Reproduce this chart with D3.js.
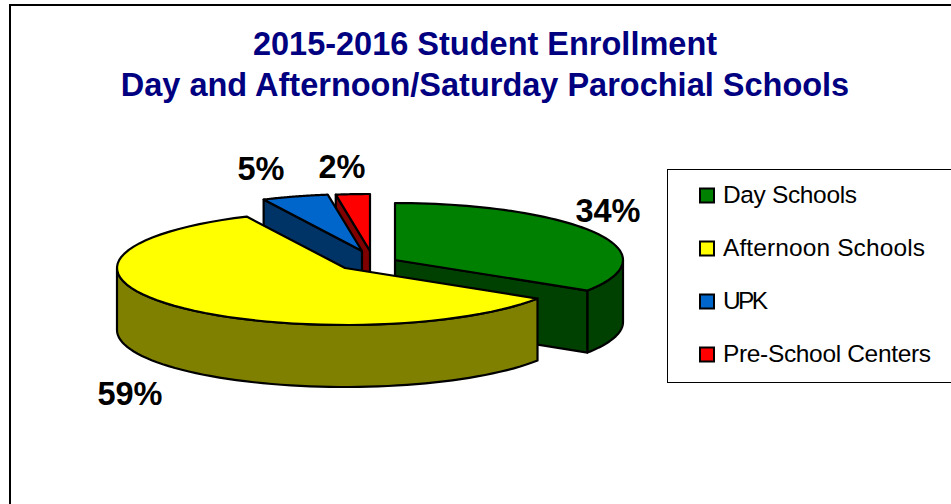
<!DOCTYPE html>
<html>
<head>
<meta charset="utf-8">
<style>
  html, body { margin: 0; padding: 0; background: #fff; overflow: hidden; }
  text { font-family: "Liberation Sans", Arial, sans-serif; }
</style>
<script src="https://cdn.jsdelivr.net/npm/d3@7"></script>
</head>
<body>
<svg id="chart" width="951" height="504"></svg>
<script>
const titleLines = ["2015-2016 Student Enrollment", "Day and Afternoon/Saturday Parochial Schools"];
const categories = ["Day Schools", "Afternoon Schools", "UPK", "Pre-School Centers"];
const shares = [34.0, 58.9, 4.7, 2.4];
const shareLabels = ["34%", "59%", "5%", "2%"];

const topColors = ["#008000", "#ffff00", "#0066cc", "#ff0000"];
const sideColors = ["#004000", "#808000", "#003366", "#800000"];

const rx = 228, ry = 57, depth = 62;

// where each exploded slice sits
const sliceCentres = [[395, 260], [345, 268], [362, 251], [370, 251]];
const labelSpots = [[608, 222], [130, 405], [261, 180], [342, 178]];
const legendTextWidths = [134, 202, 45, 208];
const drawOrder = [0, 3, 2, 1];

const svg = d3.select("#chart");

svg.append("rect")
   .attr("x", 10).attr("y", 5)
   .attr("width", 960).attr("height", 540)
   .attr("fill", "#fff").attr("stroke", "#000").attr("stroke-width", 2);

svg.selectAll("text.title")
   .data(titleLines)
   .join("text")
   .attr("class", "title")
   .attr("x", 485)
   .attr("y", (d, i) => 55 + i * 41)
   .attr("text-anchor", "middle")
   .attr("font-size", 32.5)
   .attr("font-weight", "bold")
   .attr("fill", "#000080")
   .text(d => d);

const slices = d3.pie().sort(null)(shares);
const line = d3.line();

function rimPoint(centre, angle, drop) {
  return [centre[0] + rx * Math.sin(angle), centre[1] - ry * Math.cos(angle) + drop];
}

function rimPoints(centre, a0, a1, drop) {
  return d3.range(0, 61).map(i => rimPoint(centre, a0 + (a1 - a0) * i / 60, drop));
}

function drawSlice(i) {
  const s = slices[i], c = sliceCentres[i];
  const g = svg.append("g").attr("stroke", "#000").attr("stroke-width", 2.2).attr("stroke-linejoin", "round");

  // cut face along the starting edge, only when it faces the viewer
  if (i > 1) {
    const p = rimPoint(c, s.startAngle, 0);
    g.append("path")
     .attr("d", line([c, p, [p[0], p[1] + depth], [c[0], c[1] + depth]]) + "Z")
     .attr("fill", sideColors[i]);
  }
  if (i === 0) {
    const p = rimPoint(c, s.endAngle, 0);
    g.append("path")
     .attr("d", line([c, p, [p[0], p[1] + depth], [c[0], c[1] + depth]]) + "Z")
     .attr("fill", sideColors[i]);
  }

  // outer wall, the part of the rim on the near side
  const wall0 = Math.max(s.startAngle, Math.PI / 2);
  const wall1 = Math.min(s.endAngle, Math.PI * 1.5);
  if (wall0 < wall1) {
    const upper = rimPoints(c, wall0, wall1, 0);
    const lower = rimPoints(c, wall1, wall0, depth);
    g.append("path")
     .attr("d", line(upper.concat(lower)) + "Z")
     .attr("fill", sideColors[i]);
  }

  g.append("path")
   .attr("d", line([c].concat(rimPoints(c, s.startAngle, s.endAngle, 0))) + "Z")
   .attr("fill", topColors[i]);
}

drawOrder.forEach(drawSlice);

svg.selectAll("text.share")
   .data(shareLabels)
   .join("text")
   .attr("class", "share")
   .attr("x", (d, i) => labelSpots[i][0])
   .attr("y", (d, i) => labelSpots[i][1])
   .attr("text-anchor", "middle")
   .attr("font-size", 32.5)
   .attr("font-weight", "bold")
   .attr("fill", "#000")
   .text(d => d);

// legend
svg.append("rect")
   .attr("x", 667.5).attr("y", 169.5)
   .attr("width", 320).attr("height", 213)
   .attr("fill", "#fff").attr("stroke", "#000").attr("stroke-width", 1);

const legendY = d3.scalePoint().domain(categories).range([195.5, 354.5]);

const legend = svg.selectAll("g.legend")
   .data(categories)
   .join("g")
   .attr("class", "legend")
   .attr("transform", d => `translate(0,${legendY(d)})`);

legend.append("rect")
   .attr("x", 700).attr("y", -7)
   .attr("width", 14).attr("height", 14)
   .attr("fill", (d, i) => topColors[i])
   .attr("stroke", "#000").attr("stroke-width", 2);

legend.append("text")
   .attr("x", 723).attr("y", 7)
   .attr("font-size", 24.5)
   .attr("fill", "#000")
   .attr("textLength", (d, i) => legendTextWidths[i])
   .attr("lengthAdjust", "spacing")
   .text(d => d);
</script>
</body>
</html>
